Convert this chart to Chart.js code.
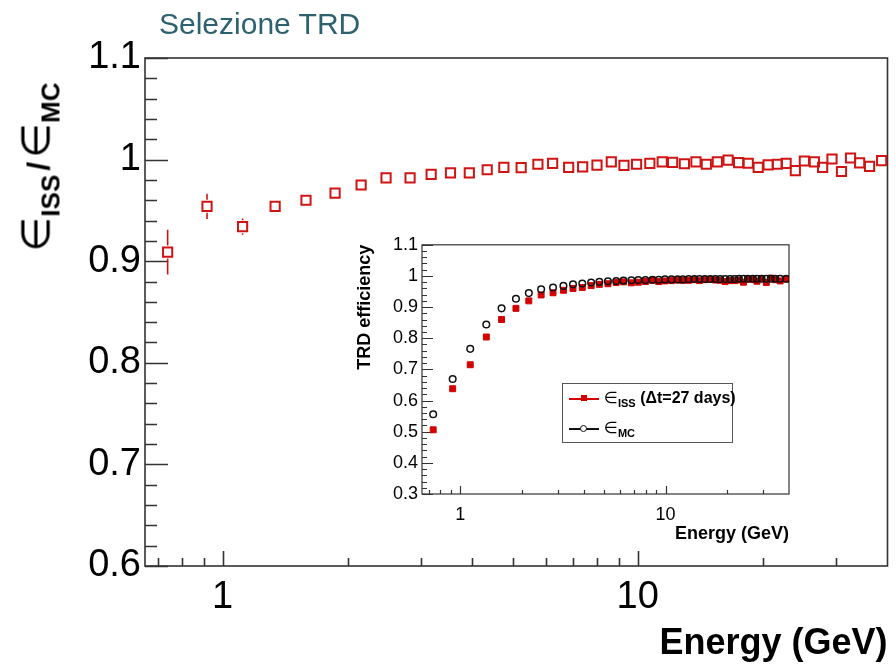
<!DOCTYPE html>
<html><head><meta charset="utf-8">
<script src="https://cdn.jsdelivr.net/npm/chart.js@4.4.1/dist/chart.umd.min.js"></script>
<style>
html,body{margin:0;padding:0;background:#fff;}
body{width:896px;height:666px;position:relative;overflow:hidden;font-family:'Liberation Sans',Arial,Helvetica,sans-serif;}
#main{position:absolute;left:0;top:0;}
#inset{position:absolute;left:340px;top:230px;}
#title{position:absolute;left:159px;top:9px;font-size:30px;line-height:30px;color:#2d6170;white-space:nowrap;}
#ytitle{position:absolute;left:40px;top:167px;transform:translate(-50%,-50%) rotate(-90deg);white-space:nowrap;line-height:46px;color:#000;}
#ytitle .in{font-family:'DejaVu Sans',sans-serif;font-size:40px;}
#ytitle .sub{font-weight:bold;font-size:26px;position:relative;top:10px;}
#ytitle .sl{font-weight:bold;font-size:32px;margin:0 4px;}
#leg{position:absolute;left:562px;top:383px;width:169px;height:58px;border:1.5px solid #555;background:#fff;}
#leg .ln{position:absolute;left:6px;width:30px;height:1.5px;}
#leg .sq{position:absolute;left:18px;width:6px;height:6px;background:#d40000;}
#leg .ci{position:absolute;left:17px;width:5px;height:5px;border:1.5px solid #111;border-radius:50%;background:#fff;}
#leg .tx{position:absolute;left:41px;font-size:16px;line-height:20px;white-space:nowrap;color:#000;}
#leg .in{font-family:'DejaVu Sans',sans-serif;font-size:16px;}
#leg .sub{font-weight:bold;font-size:11px;position:relative;top:4px;}
</style></head><body>
<canvas id="main" width="896" height="666"></canvas>
<canvas id="inset" width="460" height="320"></canvas>
<div id="title">Selezione TRD</div>
<div id="ytitle"><span class="in">∈</span><span class="sub">ISS</span><span class="sl">/</span><span class="in">∈</span><span class="sub">MC</span></div>
<div id="leg">
  <div class="ln" style="top:14px;background:#d40000"></div>
  <div class="sq" style="top:11px"></div>
  <div class="tx" style="top:4px"><span class="in">∈</span><span class="sub">ISS</span> <b>(Δt=27 days)</b></div>
  <div class="ln" style="top:44px;background:#111"></div>
  <div class="ci" style="top:41px"></div>
  <div class="tx" style="top:34px"><span class="in">∈</span><span class="sub">MC</span></div>
</div>
<script>
// ---------------- data ----------------
const energy = [0.737, 0.917, 1.117, 1.338, 1.588, 1.866, 2.156, 2.476, 2.829, 3.18, 3.54, 3.93, 4.34, 4.76,
  5.24, 5.75, 6.24, 6.82, 7.37, 7.98, 8.64, 9.27, 9.94, 10.70, 11.46, 12.14, 12.96, 13.82, 14.64, 15.56,
  16.52, 17.51, 18.47, 19.52, 20.63, 21.71, 22.79, 23.99, 25.22, 26.66, 27.91, 29.40, 30.99, 32.58, 34.27, 36.21, 38.72];
const ratio = [0.909, 0.954, 0.934, 0.954, 0.960, 0.967, 0.975, 0.982, 0.982, 0.9855, 0.987, 0.987, 0.990, 0.9924,
  0.9921, 0.9954, 0.9962, 0.9924, 0.9928, 0.9946, 0.9978, 0.9944, 0.9954, 0.9962, 0.9978, 0.9973, 0.9959, 0.9978,
  0.9954, 0.9978, 0.9995, 0.997, 0.9964, 0.9924, 0.9949, 0.9954, 0.9962, 0.9892, 0.9986, 0.9978, 0.9924, 1.0006,
  0.9883, 1.0016, 0.9967, 0.9934, 0.999];
const ratioErr = [0.022, 0.0125, 0.008, 0.005, 0.004, 0.004, 0.003, 0.003, 0.003, 0.003, 0.003, 0.003, 0.003, 0.003,
  0.003, 0.003, 0.003, 0.003, 0.003, 0.003, 0.003, 0.003, 0.003, 0.003, 0.003, 0.003, 0.003, 0.003, 0.003, 0.003,
  0.003, 0.003, 0.003, 0.003, 0.003, 0.003, 0.003, 0.004, 0.004, 0.004, 0.004, 0.004, 0.004, 0.004, 0.004, 0.004, 0.004];
const effMC = [0.556, 0.669, 0.766, 0.844, 0.896, 0.927, 0.945, 0.957, 0.963, 0.968, 0.973, 0.976, 0.979, 0.981,
  0.983, 0.984, 0.985, 0.986, 0.987, 0.987, 0.988, 0.988, 0.989, 0.989, 0.989, 0.989, 0.990, 0.990, 0.990, 0.990,
  0.990, 0.990, 0.990, 0.990, 0.990, 0.990, 0.991, 0.991, 0.991, 0.991, 0.991, 0.991, 0.991, 0.991, 0.991, 0.991, 0.991];
const effISS = [0.506, 0.638, 0.715, 0.804, 0.860, 0.896, 0.920, 0.939, 0.946, 0.954, 0.960, 0.963, 0.969, 0.973,
  0.975, 0.979, 0.981, 0.978, 0.980, 0.982, 0.986, 0.982, 0.984, 0.985, 0.987, 0.986, 0.986, 0.988, 0.985, 0.988,
  0.989, 0.987, 0.986, 0.982, 0.985, 0.985, 0.987, 0.980, 0.990, 0.989, 0.983, 0.992, 0.979, 0.993, 0.988, 0.984, 0.990];
const xLabelTicks = [1, 10];
const xMinorTicks = [0.7, 0.8, 0.9, 2, 3, 4, 5, 6, 7, 8, 9, 20, 30];
const mainYTicks = [0.6, 0.7, 0.8, 0.9, 1.0, 1.1];
const insetYTicks = [0.3, 0.4, 0.5, 0.6, 0.7, 0.8, 0.9, 1.0, 1.1];

// ---------------- plugins ----------------
const rootFrame = {
  id: 'rootFrame',
  beforeDatasetsDraw(chart, args, o) {
    const {ctx, chartArea: a, scales: {x, y}} = chart;
    ctx.save();
    ctx.strokeStyle = o.color; ctx.lineWidth = o.lineWidth;
    ctx.strokeRect(a.left, a.top, a.right - a.left, a.bottom - a.top);
    ctx.beginPath();
    const n = Math.round((y.max - y.min) / o.yMinorStep);
    for (let i = 0; i <= n; i++) {
      const v = y.min + i * o.yMinorStep;
      const py = Math.round(y.getPixelForValue(v)) + 0.5;
      const major = i % o.yMinorPerMajor === 0;
      ctx.moveTo(a.left, py); ctx.lineTo(a.left + (major ? o.yMajorLen : o.yMinorLen), py);
    }
    xLabelTicks.forEach(v => { const px = Math.round(x.getPixelForValue(v)) + 0.5; ctx.moveTo(px, a.bottom); ctx.lineTo(px, a.bottom - o.xMajorLen); });
    xMinorTicks.forEach(v => { const px = Math.round(x.getPixelForValue(v)) + 0.5; ctx.moveTo(px, a.bottom); ctx.lineTo(px, a.bottom - o.xMinorLen); });
    ctx.stroke();
    ctx.restore();
  }
};
const errorBars = {
  id: 'errorBars',
  afterDatasetsDraw(chart, args, o) {
    if (!o.errors) return;
    const {ctx} = chart; const y = chart.scales.y;
    const meta = chart.getDatasetMeta(0); const data = chart.data.datasets[0].data;
    ctx.save(); ctx.strokeStyle = o.color; ctx.lineWidth = o.width;
    meta.data.forEach((pt, i) => {
      const v = data[i].y, e = o.errors[i];
      const y1 = y.getPixelForValue(v + e), y2 = y.getPixelForValue(v - e), h = o.gap;
      ctx.beginPath();
      if (pt.y - y1 > h) { ctx.moveTo(pt.x, y1); ctx.lineTo(pt.x, pt.y - h); }
      if (y2 - pt.y > h) { ctx.moveTo(pt.x, pt.y + h); ctx.lineTo(pt.x, y2); }
      ctx.stroke();
    });
    ctx.restore();
  }
};

const FONT = "'Liberation Sans', Arial, Helvetica, sans-serif";
const fmt = v => String(+(+v).toFixed(2));
const noGrid = { display: false, drawTicks: false, tickLength: 0 };

function pts(ys) { return energy.map((e, i) => ({x: e, y: ys[i]})); }

// ---------------- main chart ----------------
new Chart(document.getElementById('main'), {
  type: 'scatter',
  data: { datasets: [{
    label: 'ratio', data: pts(ratio), pointStyle: 'rect', pointRadius: 6.5, pointHoverRadius: 6.5,
    borderWidth: 2, borderColor: '#d01414', backgroundColor: 'rgba(0,0,0,0)'
  }]},
  plugins: [rootFrame, errorBars],
  options: {
    responsive: false, animation: false, devicePixelRatio: 1,
    events: [],
    layout: { padding: { left: 0, right: 8, top: 58, bottom: 0 } },
    plugins: {
      legend: { display: false }, tooltip: { enabled: false },
      rootFrame: { color: '#333', lineWidth: 1.6, yMinorStep: 0.02, yMinorPerMajor: 5, yMajorLen: 23, yMinorLen: 12, xMajorLen: 15, xMinorLen: 8 },
      errorBars: { errors: ratioErr, color: '#d01414', width: 1.6, gap: 6.5 }
    },
    scales: {
      x: {
        type: 'logarithmic', min: 0.65, max: 40,
        grid: noGrid, border: { display: false },
        afterBuildTicks: s => { s.ticks = xLabelTicks.map(v => ({value: v})); },
        afterFit: s => { s.height = 100; },
        ticks: { autoSkip: false, maxRotation: 0, padding: 9, color: '#000', font: { family: FONT, size: 38 }, callback: v => fmt(v) },
        title: { display: true, text: 'Energy (GeV)', align: 'end', color: '#000', padding: { top: 0, bottom: 0 }, font: { family: FONT, size: 36, weight: 'bold' } }
      },
      y: {
        min: 0.6, max: 1.1,
        grid: noGrid, border: { display: false },
        afterBuildTicks: s => { s.ticks = mainYTicks.map(v => ({value: v})); },
        afterFit: s => { s.width = 145; },
        ticks: { padding: 4, color: '#000', font: { family: FONT, size: 38 }, callback: v => fmt(v) }
      }
    }
  }
});

// ---------------- inset chart ----------------
new Chart(document.getElementById('inset'), {
  type: 'scatter',
  data: { datasets: [
    { label: 'ISS', data: pts(effISS), order: 1, pointStyle: 'rect', pointRadius: 4.2, pointHoverRadius: 4.2,
      borderWidth: 1, borderColor: '#d40000', backgroundColor: '#d40000' },
    { label: 'MC', data: pts(effMC), order: 0, pointStyle: 'circle', pointRadius: 3.3, pointHoverRadius: 3.3,
      borderWidth: 1.5, borderColor: '#111', backgroundColor: 'rgba(0,0,0,0)' }
  ]},
  plugins: [rootFrame],
  options: {
    responsive: false, animation: false, devicePixelRatio: 1,
    events: [],
    layout: { padding: { left: 0, right: 11, top: 13, bottom: 0 } },
    plugins: {
      legend: { display: false }, tooltip: { enabled: false },
      rootFrame: { color: '#333', lineWidth: 1.2, yMinorStep: 0.02, yMinorPerMajor: 5, yMajorLen: 11, yMinorLen: 5, xMajorLen: 8, xMinorLen: 4 }
    },
    scales: {
      x: {
        type: 'logarithmic', min: 0.65, max: 40,
        grid: noGrid, border: { display: false },
        afterBuildTicks: s => { s.ticks = xLabelTicks.map(v => ({value: v})); },
        afterFit: s => { s.height = 56; },
        ticks: { autoSkip: false, maxRotation: 0, padding: 10, color: '#000', font: { family: FONT, size: 18 }, callback: v => fmt(v) },
        title: { display: true, text: 'Energy (GeV)', align: 'end', color: '#000', padding: { top: 0, bottom: 5 }, font: { family: FONT, size: 18, weight: 'bold' } }
      },
      y: {
        min: 0.3, max: 1.1,
        grid: noGrid, border: { display: false },
        afterBuildTicks: s => { s.ticks = insetYTicks.map(v => ({value: v})); },
        afterFit: s => { s.width = 82; },
        ticks: { padding: 4, color: '#000', font: { family: FONT, size: 18 }, callback: v => fmt(v) },
        title: { display: true, text: 'TRD efficiency', align: 'end', color: '#000', padding: { top: 14, bottom: 0 }, font: { family: FONT, size: 18, weight: 'bold' } }
      }
    }
  }
});
</script>
</body></html>
